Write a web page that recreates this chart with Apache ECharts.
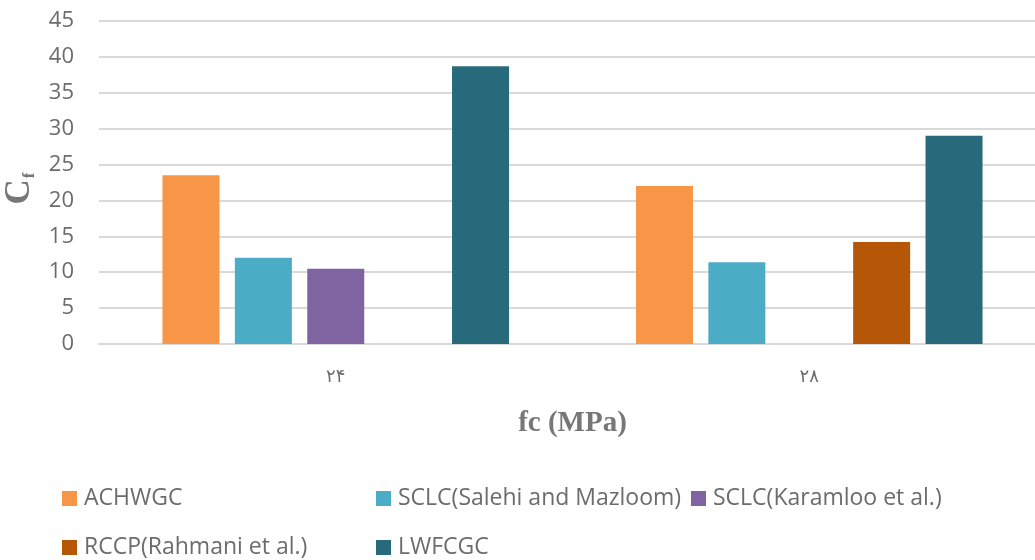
<!DOCTYPE html>
<html>
<head>
<meta charset="utf-8">
<script src="https://cdn.jsdelivr.net/npm/echarts@6/dist/echarts.min.js"></script>
<style>
  html, body { margin: 0; padding: 0; background: #fff; }
  #chart { width: 1035px; height: 560px; }
</style>
</head>
<body>
<div id="chart"></div>
<script>
// Compressive strength groups (Persian digits) and series values of Cf
const categories = ['۲۴', '۲۸'];
const seriesNames = [
  'ACHWGC',
  'SCLC(Salehi and Mazloom)',
  'SCLC(Karamloo et al.)',
  'RCCP(Rahmani et al.)',
  'LWFCGC'
];
const achwgc = [23.5, 22.0];
const sclcSalehi = [12.0, 11.4];
const sclcKaramloo = [10.5, null];
const rccpRahmani = [null, 14.2];
const lwfcgc = [38.7, 29.0];
const yTicks = [0, 5, 10, 15, 20, 25, 30, 35, 40, 45];

const seriesData = [achwgc, sclcSalehi, sclcKaramloo, rccpRahmani, lwfcgc];
const colors = ['#F79646', '#4BACC6', '#8064A2', '#B65708', '#276A7C'];

const textGrey = '#6c6c6c';
const sans = '"Open Sans", "Noto Sans", sans-serif';
const serif = '"Liberation Serif", "DejaVu Serif", serif';

const chart = echarts.init(document.getElementById('chart'), null, { renderer: 'canvas' });

// Legend is laid out as three fixed columns, two rows
const legendBase = {
  orient: 'vertical',
  top: 482,
  height: 120,
  itemWidth: 15,
  itemHeight: 15,
  itemGap: 26,
  icon: 'rect',
  selectedMode: false,
  textStyle: { fontFamily: sans, fontSize: 23, color: textGrey, padding: [0, 0, 0, 2] }
};

chart.setOption({
  animation: false,
  color: colors,
  grid: { left: 99, right: -11, top: 21, bottom: 216, containLabel: false, outerBoundsMode: 'none' },
  legend: [
    Object.assign({}, legendBase, { left: 57, data: [seriesNames[0], seriesNames[3]] }),
    Object.assign({}, legendBase, { left: 371, data: [seriesNames[1], seriesNames[4]] }),
    Object.assign({}, legendBase, { left: 686, data: [seriesNames[2]] })
  ],
  xAxis: {
    type: 'category',
    data: categories,
    name: 'fc (MPa)',
    nameLocation: 'middle',
    nameGap: 65,
    nameTextStyle: { fontFamily: serif, fontWeight: 'bold', fontSize: 29, color: '#777' },
    axisLine: { lineStyle: { color: '#D9D9D9', width: 2 } },
    axisTick: { show: false },
    axisLabel: { fontFamily: '"DejaVu Sans", sans-serif', fontSize: 18, color: textGrey, margin: 24 }
  },
  yAxis: {
    type: 'value',
    min: yTicks[0],
    max: yTicks[yTicks.length - 1],
    interval: yTicks[1] - yTicks[0],
    // C with subscript f
    name: '{c|C}{s|f}',
    nameLocation: 'middle',
    nameGap: 47,
    nameTextStyle: {
      rich: {
        c: { fontFamily: serif, fontWeight: 'bold', fontSize: 35, lineHeight: 36, color: '#777' },
        s: { fontFamily: serif, fontWeight: 'bold', fontSize: 17, lineHeight: 14, color: '#777', verticalAlign: 'bottom', padding: [0, 12, 0, 1] }
      }
    },
    axisLine: { show: false },
    axisTick: { show: false },
    splitLine: { lineStyle: { color: '#D9D9D9', width: 2 } },
    axisLabel: { fontFamily: sans, fontSize: 22, color: textGrey, margin: 25 }
  },
  series: seriesNames.map((name, i) => ({
    name: name,
    type: 'bar',
    data: seriesData[i],
    barWidth: 57,
    barGap: '27%',
    itemStyle: { color: colors[i] }
  }))
});
</script>
</body>
</html>
